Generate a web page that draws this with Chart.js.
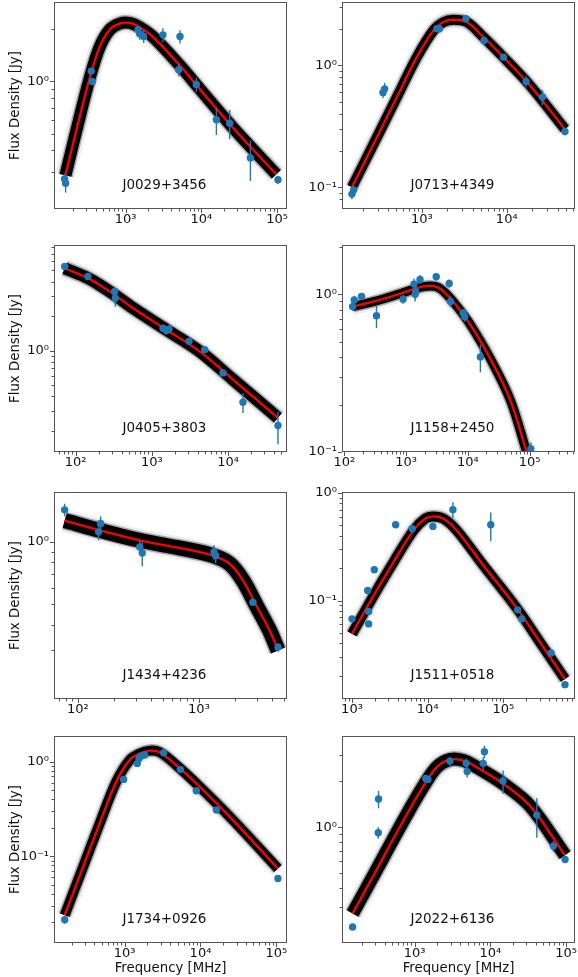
<!DOCTYPE html>
<html lang="en">
<head>
<meta charset="UTF-8">
<title>Radio spectra with fitted models</title>
<script src="https://cdn.jsdelivr.net/npm/chart.js"></script>
<style>
  body { margin: 0; background: #fff; }
  #fig { position: relative; width: 578px; height: 977px; overflow: hidden; background: #fff; }
  #fig canvas { position: absolute; }
</style>
</head>
<body>
<div id="fig"></div>
<script>
// measured points: frequency [MHz], flux density [Jy], error [Jy]
// fit: best-fit model read at a few frequencies
const j0029Freq = [156, 161, 351, 362, 1456, 1531, 1729, 3110, 5220, 5015, 8590, 15800, 23700, 44500, 103000];
const j0029Flux = [0.273, 0.258, 1.148, 1.0, 1.99, 1.89, 1.82, 1.86, 1.82, 1.17, 0.96, 0.60, 0.574, 0.361, 0.27];
const j0029Err  = [0.02, 0.03, 0.05, 0.05, 0.1, 0.15, 0.15, 0.17, 0.16, 0.1, 0.09, 0.11, 0.11, 0.095, 0.015];
const j0029FitFreq = [160, 223, 334, 453, 615, 833, 1130, 1530, 2300, 5180, 9510, 26200, 98000];
const j0029FitFlux = [0.286, 0.52, 1.04, 1.58, 1.99, 2.16, 2.18, 2.06, 1.81, 1.24, 0.905, 0.54, 0.29];

const j0713Freq = [150, 157, 348, 364, 1500, 1610, 3300, 5400, 9140, 16900, 26300, 48500];
const j0713Flux = [0.088, 0.095, 0.60, 0.64, 2.0, 2.0, 2.42, 1.60, 1.17, 0.74, 0.55, 0.287];
const j0713Err  = [0.008, 0.008, 0.06, 0.08, 0.1, 0.1, 0.12, 0.08, 0.06, 0.08, 0.08, 0.02];
const j0713FitFreq = [150, 270, 508, 873, 1371, 1800, 2360, 3380, 5310, 9130, 18800, 48500];
const j0713FitFlux = [0.10, 0.227, 0.55, 1.17, 1.94, 2.27, 2.37, 2.27, 1.71, 1.17, 0.685, 0.30];

const j0405Freq = [71.8, 145, 325, 332, 1400, 1549, 1680, 3070, 4930, 8590, 15700, 45200];
const j0405Flux = [5.40, 4.42, 3.27, 2.87, 1.57, 1.50, 1.54, 1.205, 1.02, 0.64, 0.356, 0.223];
const j0405Err  = [0.3, 0.25, 0.25, 0.45, 0.1, 0.12, 0.12, 0.06, 0.06, 0.04, 0.07, 0.07];
const j0405FitFreq = [71.8, 145, 206, 325, 565, 1549, 4240, 11600, 45200];
const j0405FitFlux = [5.22, 4.28, 3.74, 3.06, 2.35, 1.52, 0.986, 0.56, 0.26];

const j1158Freq = [136, 145, 190, 332, 895, 1346, 1432, 1400, 1683, 3080, 5000, 5250, 8400, 8930, 16000, 105000];
const j1158Flux = [0.835, 0.92, 0.97, 0.73, 0.93, 1.16, 1.04, 1.0, 1.24, 1.29, 1.17, 0.90, 0.76, 0.72, 0.40, 0.105];
const j1158Err  = [0.05, 0.06, 0.05, 0.12, 0.06, 0.1, 0.1, 0.1, 0.08, 0.07, 0.07, 0.07, 0.05, 0.05, 0.08, 0.01];
const j1158FitFreq = [136, 305, 820, 1950, 3200, 4640, 6730, 11040, 23200, 48700, 90600];
const j1158FitFlux = [0.835, 0.90, 1.01, 1.12, 1.11, 0.99, 0.835, 0.64, 0.39, 0.214, 0.099];

const j1434Freq = [77.6, 154, 148, 324, 340, 1330, 1375, 2790, 4500];
const j1434Flux = [1.43, 1.23, 1.12, 0.946, 0.885, 0.895, 0.86, 0.513, 0.311];
const j1434Err  = [0.1, 0.1, 0.1, 0.07, 0.12, 0.07, 0.07, 0.02, 0.015];
const j1434FitFreq = [77.6, 151, 324, 738, 1306, 1792, 2310, 2980, 3840, 4500];
const j1434FitFlux = [1.27, 1.14, 1.02, 0.93, 0.86, 0.786, 0.653, 0.494, 0.374, 0.30];

const j1511Freq = [1000, 1610, 1660, 1660, 1970, 3770, 6250, 11700, 21500, 68000, 154000, 175000, 426000, 650000];
const j1511Flux = [0.0675, 0.124, 0.079, 0.0606, 0.193, 0.507, 0.465, 0.489, 0.70, 0.507, 0.0819, 0.0675, 0.0325, 0.0165];
const j1511Err  = [0.004, 0.008, 0.005, 0.004, 0.01, 0.03, 0.03, 0.03, 0.12, 0.15, 0.005, 0.004, 0.002, 0.001];
const j1511FitFreq = [1000, 1930, 3540, 6500, 9270, 11900, 16200, 24200, 54500, 150000, 337000, 650000];
const j1511FitFlux = [0.0489, 0.111, 0.228, 0.449, 0.577, 0.606, 0.577, 0.449, 0.212, 0.0849, 0.0367, 0.0186];

const j1734Freq = [162, 970, 1468, 1545, 1660, 1836, 3270, 5420, 8810, 16200, 105000];
const j1734Flux = [0.0213, 0.65, 0.96, 1.08, 1.15, 1.18, 1.245, 0.83, 0.493, 0.308, 0.058];
const j1734Err  = [0.002, 0.04, 0.06, 0.06, 0.06, 0.06, 0.06, 0.04, 0.025, 0.015, 0.003];
const j1734FitFreq = [162, 283, 468, 776, 1164, 1578, 2137, 2895, 4800, 9750, 26800, 105000];
const j1734FitFlux = [0.0237, 0.077, 0.222, 0.614, 1.04, 1.22, 1.31, 1.26, 0.92, 0.543, 0.241, 0.074];

const j2022Freq = [151, 333, 330, 1400, 1497, 2920, 4790, 4930, 8020, 8340, 14700, 41100, 68100, 97000];
const j2022Flux = [0.220, 1.53, 0.918, 2.09, 2.06, 2.72, 2.63, 2.32, 2.63, 3.14, 2.01, 1.2, 0.75, 0.612];
const j2022Err  = [0.01, 0.2, 0.08, 0.1, 0.1, 0.2, 0.2, 0.2, 0.25, 0.3, 0.35, 0.35, 0.06, 0.03];
const j2022FitFreq = [151, 292, 483, 801, 1327, 1990, 2980, 4460, 6680, 15000, 33600, 97000];
const j2022FitFlux = [0.27, 0.49, 0.78, 1.23, 1.89, 2.5, 2.79, 2.74, 2.47, 1.92, 1.375, 0.653];

const sourceNames = ['J0029+3456', 'J0713+4349', 'J0405+3803', 'J1158+2450',
                     'J1434+4236', 'J1511+0518', 'J1734+0926', 'J2022+6136'];
const xLimits = [[113, 135500], [114.5, 63700], [52, 59350], [91.7, 545000],
                 [63.4, 5337], [738, 881000], [117, 138300], [109.5, 131300]];
const yLimits = [[0.183, 2.88], [0.0664, 3.315], [0.131, 8.32], [0.1, 2.052],
                 [0.175, 1.744], [0.01213, 1.0216], [0.01206, 1.871], [0.1727, 3.98]];
const yTitle = 'Flux Density [Jy]';
const xTitle = 'Frequency [MHz]';

const series = [
  [j0029Freq, j0029Flux, j0029Err, j0029FitFreq, j0029FitFlux],
  [j0713Freq, j0713Flux, j0713Err, j0713FitFreq, j0713FitFlux],
  [j0405Freq, j0405Flux, j0405Err, j0405FitFreq, j0405FitFlux],
  [j1158Freq, j1158Flux, j1158Err, j1158FitFreq, j1158FitFlux],
  [j1434Freq, j1434Flux, j1434Err, j1434FitFreq, j1434FitFlux],
  [j1511Freq, j1511Flux, j1511Err, j1511FitFreq, j1511FitFlux],
  [j1734Freq, j1734Flux, j1734Err, j1734FitFreq, j1734FitFlux],
  [j2022Freq, j2022Flux, j2022Err, j2022FitFreq, j2022FitFlux]
];

// layout
const boxLeft = [54, 342];
const boxTop = [2, 245, 492, 736];
const boxW = 233, boxH = 207;
const colX = [0, 290];
const mt = 14, mr = 4, mb = 34;
const bandWidth = [12, 10, 12, 9, 15, 10, 10, 13];

const blue = '#1f77b4';
const fontFam = '"DejaVu Sans", sans-serif';
const supMap = {'0': '⁰', '1': '¹', '2': '²', '3': '³', '4': '⁴', '5': '⁵', '6': '⁶', '-': '⁻'};
const sup = n => String(n).split('').map(c => supMap[c]).join('');
const isPow10 = v => { const l = Math.log10(v); return Math.abs(l - Math.round(l)) < 1e-9; };
const wholeMantissa = v => {
  const e = Math.floor(Math.log10(v) + 1e-9);
  const m = v / Math.pow(10, e);
  return Math.abs(m - Math.round(m)) < 1e-6 && Math.round(m) < 10;
};
const tickLabel = v => isPow10(v) ? '10' + sup(Math.round(Math.log10(v))) : '';

const decor = {
  id: 'decor',
  afterDatasetsDraw(chart, args, o) {
    const {ctx, chartArea: a, scales: {x, y}} = chart;
    ctx.save();
    ctx.beginPath();
    ctx.rect(a.left, a.top, a.width, a.height);
    ctx.clip();
    ctx.strokeStyle = blue;
    ctx.lineWidth = 1.4;
    o.freq.forEach((f, i) => {
      const px = x.getPixelForValue(f);
      const hi = o.flux[i] + o.err[i];
      const lo = Math.max(o.flux[i] - o.err[i], 1e-6);
      ctx.beginPath();
      ctx.moveTo(px, y.getPixelForValue(hi));
      ctx.lineTo(px, y.getPixelForValue(lo));
      ctx.stroke();
    });
    ctx.restore();
  },
  afterDraw(chart, args, o) {
    const {ctx, chartArea: a, scales: {x, y}} = chart;
    ctx.save();
    ctx.strokeStyle = '#555';
    ctx.lineWidth = 1;
    ctx.strokeRect(a.left + 0.5, a.top + 0.5, a.width - 1, a.height - 1);
    ctx.beginPath();
    x.ticks.forEach(t => {
      if (!wholeMantissa(t.value) || t.value < x.min || t.value > x.max) return;
      const px = Math.round(x.getPixelForValue(t.value)) + 0.5;
      ctx.moveTo(px, a.bottom);
      ctx.lineTo(px, a.bottom + (isPow10(t.value) ? 4 : 2.5));
    });
    y.ticks.forEach(t => {
      if (!wholeMantissa(t.value) || t.value < y.min || t.value > y.max) return;
      const py = Math.round(y.getPixelForValue(t.value)) + 0.5;
      ctx.moveTo(a.left, py);
      ctx.lineTo(a.left - (isPow10(t.value) ? 4 : 2.5), py);
    });
    ctx.stroke();
    ctx.fillStyle = '#111';
    ctx.font = '13.5px ' + fontFam;
    ctx.textAlign = 'center';
    ctx.textBaseline = 'middle';
    ctx.fillText(o.name, a.left + 0.474 * a.width, a.bottom - 24);
    ctx.restore();
  }
};

const fig = document.getElementById('fig');

series.forEach((s, i) => {
  const col = i % 2, row = Math.floor(i / 2);
  const [freq, flux, err, fitFreq, fitFlux] = s;
  const yw = boxLeft[col] - colX[col];
  const W = yw + boxW + mr, H = mt + boxH + mb;
  const canvas = document.createElement('canvas');
  canvas.width = W; canvas.height = H;
  canvas.style.width = W + 'px'; canvas.style.height = H + 'px';
  canvas.style.left = colX[col] + 'px';
  canvas.style.top = (boxTop[row] - mt) + 'px';
  fig.appendChild(canvas);

  const pts = freq.map((f, k) => ({x: f, y: flux[k]}));
  const fit = fitFreq.map((f, k) => ({x: f, y: fitFlux[k]}));
  const lineBase = {data: fit, pointRadius: 0, tension: 0.35,
                    borderCapStyle: 'butt', borderJoinStyle: 'round', clip: 0, fill: false};
  const bw = bandWidth[i];

  new Chart(canvas, {
    type: 'line',
    data: {
      datasets: [
        {data: pts, showLine: false, pointRadius: 3.7, pointBackgroundColor: blue,
         pointBorderColor: blue, pointBorderWidth: 0, order: 0},
        Object.assign({}, lineBase, {borderColor: '#ff0000', borderWidth: 2.3, order: 1}),
        Object.assign({}, lineBase, {borderColor: '#000', borderWidth: bw, order: 2}),
        Object.assign({}, lineBase, {borderColor: 'rgba(0,0,0,0.3)', borderWidth: bw + 3, order: 3}),
        Object.assign({}, lineBase, {borderColor: 'rgba(0,0,0,0.06)', borderWidth: bw + 8, order: 4})
      ]
    },
    options: {
      responsive: false,
      animation: false,
      events: [],
      layout: {padding: {top: mt, right: mr, left: 0, bottom: 0}},
      plugins: {
        legend: {display: false},
        tooltip: {enabled: false},
        decor: {name: sourceNames[i], freq, flux, err}
      },
      scales: {
        x: {
          type: 'logarithmic',
          min: xLimits[i][0], max: xLimits[i][1],
          grid: {display: false, drawTicks: false},
          border: {display: false},
          ticks: {autoSkip: false, maxRotation: 0, minRotation: 0, padding: 3, color: '#111',
                  font: {family: fontFam, size: 13}, callback: tickLabel},
          title: {display: row === 3, text: xTitle, color: '#111',
                  font: {family: fontFam, size: 13.3}, padding: {top: 0, bottom: 0}},
          afterFit: sc => { sc.height = mb; }
        },
        y: {
          type: 'logarithmic',
          min: yLimits[i][0], max: yLimits[i][1],
          grid: {display: false, drawTicks: false},
          border: {display: false},
          ticks: {autoSkip: false, padding: 5, color: '#111',
                  font: {family: fontFam, size: 13}, callback: tickLabel},
          title: {display: col === 0, text: yTitle, color: '#111',
                  font: {family: fontFam, size: 13.3}, padding: {top: 7.5, bottom: 0}},
          afterFit: sc => { sc.width = yw; }
        }
      }
    },
    plugins: [decor]
  });
});
</script>
</body>
</html>
